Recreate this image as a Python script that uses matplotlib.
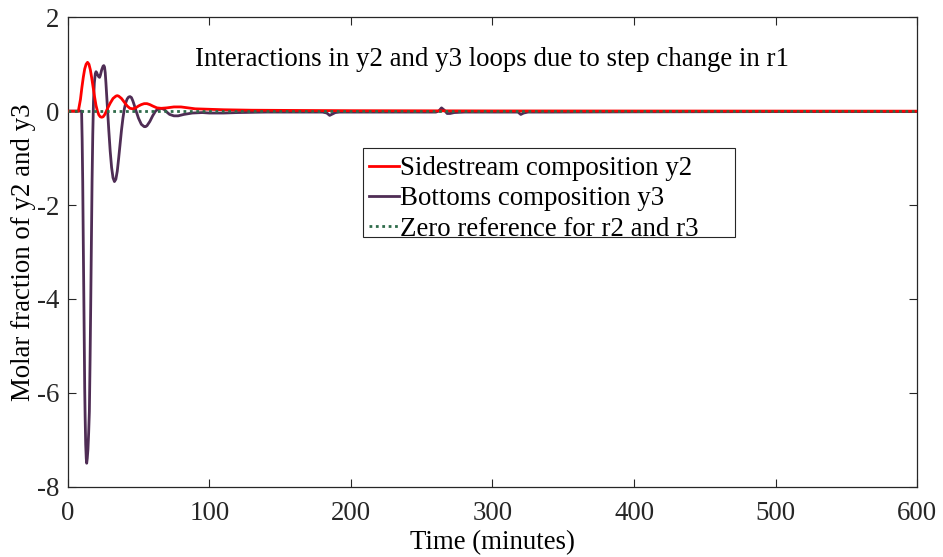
import matplotlib
matplotlib.use("Agg")
import matplotlib.pyplot as plt
from matplotlib.patches import Rectangle

plt.rcParams['font.family'] = ['Liberation Serif', 'DejaVu Serif']
plt.rcParams['axes.unicode_minus'] = False

# Time (minutes) and response of the sidestream composition y2
t_y2 = [0, 7.5, 9, 10, 11, 12, 13, 14, 15, 16, 17, 18, 19, 20, 21, 22, 23, 24, 25,
        26, 27, 28, 30, 32, 34, 35, 36, 38, 40, 42, 44, 46, 48, 50, 52, 54, 56, 58,
        60, 63, 66, 70, 75, 80, 85, 90, 100, 110, 130, 160, 200, 300, 400, 600]
y2 = [0, 0, 0.25, 0.5, 0.72, 0.9, 1.0, 1.04, 1.0, 0.88, 0.7, 0.5, 0.3, 0.12, 0.0,
      -0.08, -0.12, -0.13, -0.12, -0.08, -0.02, 0.05, 0.17, 0.27, 0.32, 0.33, 0.32,
      0.27, 0.19, 0.11, 0.06, 0.05, 0.07, 0.11, 0.14, 0.16, 0.16, 0.14, 0.11, 0.07,
      0.06, 0.07, 0.09, 0.09, 0.07, 0.05, 0.04, 0.03, 0.02, 0.015, 0.01, 0.005,
      0.003, 0.0]

# Time (minutes) and response of the bottoms composition y3
t_y3 = [0, 9.8, 10.2, 10.6, 11.0, 11.5, 12.0, 12.3, 12.7, 13.1, 13.4, 13.8, 14.3,
        14.8, 15.3, 15.8, 16.3, 16.8, 17.2, 17.7, 18.2, 18.8, 19.5, 20, 20.5, 21,
        22, 22.5, 23, 24, 25, 25.5, 26, 26.5, 27, 28, 29, 30, 31, 32, 33, 34, 35,
        36, 37, 38, 39, 40, 41, 42, 43, 44, 45, 46, 47, 48, 50, 52, 54, 55, 56, 58,
        60, 62, 64, 66, 68, 70, 72, 75, 78, 82, 88, 95, 100, 110, 120, 140, 160,
        180, 183, 185, 187, 189, 192, 200, 220, 240, 260, 262, 264, 266, 268, 270,
        273, 280, 300, 318, 320, 322, 325, 340, 400, 500, 600]
y3 = [0, 0, -0.6, -1.5, -2.8, -4.3, -5.9, -6.5, -7.1, -7.4, -7.5, -7.4, -7.2,
      -6.85, -6.4, -5.3, -4.0, -2.6, -1.5, -0.5, 0.2, 0.6, 0.8, 0.84, 0.82, 0.78,
      0.73, 0.72, 0.76, 0.88, 0.96, 0.97, 0.94, 0.82, 0.6, 0.1, -0.4, -0.85, -1.2,
      -1.42, -1.5, -1.45, -1.28, -1.0, -0.7, -0.4, -0.15, 0.05, 0.18, 0.26, 0.3,
      0.31, 0.29, 0.22, 0.13, 0.03, -0.15, -0.28, -0.33, -0.33, -0.31, -0.22, -0.1,
      0.0, 0.05, 0.06, 0.04, -0.02, -0.07, -0.1, -0.1, -0.07, -0.04, -0.03, -0.04,
      -0.04, -0.03, -0.02, -0.02, -0.02, -0.04, -0.09, -0.06, -0.03, -0.02, -0.02,
      -0.02, -0.02, -0.02, 0.0, 0.07, 0.02, -0.05, -0.05, -0.03, -0.02, -0.02,
      -0.02, -0.07, -0.04, -0.02, -0.02, -0.015, -0.01, -0.01]

# Zero reference for the r2 and r3 set points
t_ref = [0, 600]
ref = [0, 0]

x_ticks = [0, 100, 200, 300, 400, 500, 600]
y_ticks = [-8, -6, -4, -2, 0, 2]

FS = 19.4

fig = plt.figure(figsize=(9.43, 5.57), dpi=100)
ax = fig.add_axes([0.0718, 0.1262, 0.9009, 0.8428])

ax.plot(t_y2, y2, color='#ff0000', lw=2.0, label='Sidestream composition y2', zorder=3)
ax.plot(t_y3, y3, color='#4f2d55', lw=2.0, label='Bottoms composition y3', zorder=2)
ax.plot(t_ref, ref, color='#2e6b4a', lw=2.0, ls=(0, (1, 1.3)),
        label='Zero reference for r2 and r3', zorder=4)

ax.set_xlim(0, 600)
ax.set_ylim(-8, 2)
ax.set_xticks(x_ticks)
ax.set_yticks(y_ticks)
ax.tick_params(direction='in', length=6, width=0.8, top=True, right=True,
               labelsize=FS, colors='#262626')
ax.tick_params(axis='x', pad=10)
ax.tick_params(axis='y', pad=6)
for s in ax.spines.values():
    s.set_linewidth(0.9)
    s.set_color('#262626')

ax.set_xlabel('Time (minutes)', fontsize=FS, labelpad=3)
ax.set_ylabel('Molar fraction of y2 and y3', fontsize=FS, labelpad=1)

ax.text(300, 1.1, 'Interactions in y2 and y3 loops due to step change in r1',
        ha='center', va='center', fontsize=FS)

# legend entries without their own frame; a wider box is drawn separately
leg_box = (0.3476, 0.532, 0.4378, 0.1896)  # x, y, width, height in axes units
ax.add_patch(Rectangle(leg_box[:2], leg_box[2], leg_box[3], transform=ax.transAxes,
                       facecolor='white', edgecolor='#262626', lw=0.8, zorder=5))
leg = ax.legend(loc='upper left', bbox_to_anchor=(0.3456, 0.7216), fontsize=FS,
                frameon=False, handlelength=1.1, handletextpad=0.05,
                borderpad=0.3, labelspacing=0.2, borderaxespad=0)
leg.set_zorder(6)

fig.savefig('out.png', dpi=100)
